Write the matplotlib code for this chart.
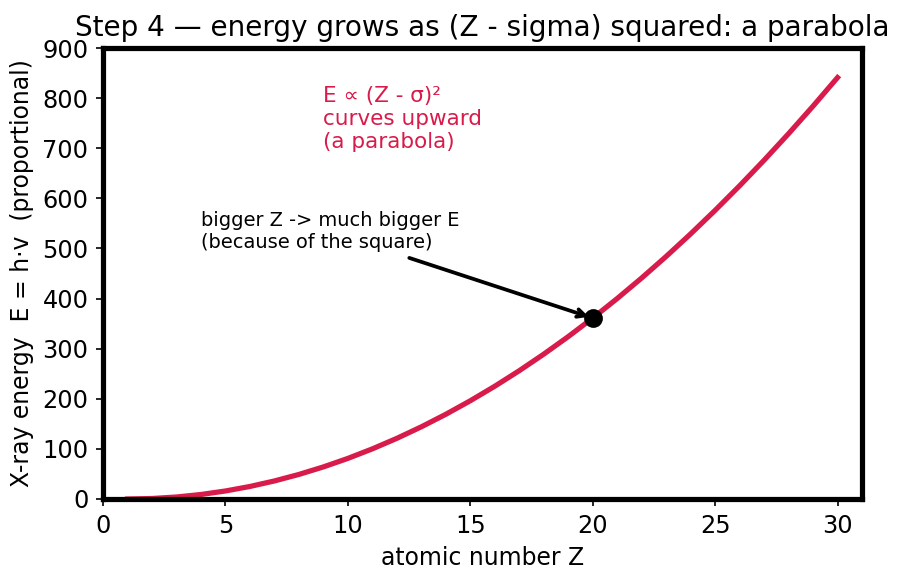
import matplotlib
matplotlib.use("Agg")
import matplotlib.pyplot as plt

# atomic number Z and energy
Z = [1, 2, 3, 4, 5, 6, 7, 8, 9, 10, 11, 12, 13, 14, 15,
     16, 17, 18, 19, 20, 21, 22, 23, 24, 25, 26, 27, 28, 29, 30]
E = [0, 1, 4, 9, 16, 25, 36, 49, 64, 81, 100, 121, 144, 169, 196,
     225, 256, 289, 324, 361, 400, 441, 484, 529, 576, 625, 676, 729, 784, 841]
Z_mark = 20
E_mark = 361

fig, ax = plt.subplots(figsize=(9.04 / 1.5, 5.81 / 1.5), dpi=150)
fig.subplots_adjust(left=103 / 904, right=862 / 904, top=1 - 48 / 581, bottom=1 - 499 / 581)
ax.plot(Z, E, color="#d81b4a", lw=2.5)
ax.plot([Z_mark], [E_mark], "o", color="black", ms=8, zorder=5)

ax.annotate("bigger Z -> much bigger E\n(because of the square)",
            xy=(Z_mark, E_mark), xytext=(4, 500), fontsize=9.3,
            arrowprops=dict(arrowstyle="->", color="black", lw=1.8))
ax.text(9, 700, "E \u221d (Z - \u03c3)\u00b2\ncurves upward\n(a parabola)",
        color="#d81b4a", fontsize=10.3)

ax.set_xlim(0, 31)
ax.set_ylim(0, 900)
ax.set_xticks([0, 5, 10, 15, 20, 25, 30])
ax.set_yticks(range(0, 901, 100))
ax.tick_params(labelsize=11.5)
ax.set_xlabel("atomic number Z", fontsize=11.3)
ax.set_ylabel("X-ray energy  E = h\u00b7v  (proportional)", fontsize=11.3)
ax.set_title("Step 4 \u2014 energy grows as (Z - sigma) squared: a parabola", fontsize=13.4)
for s in ax.spines.values():
    s.set_linewidth(2.5)

plt.savefig("out.png", dpi=150)
